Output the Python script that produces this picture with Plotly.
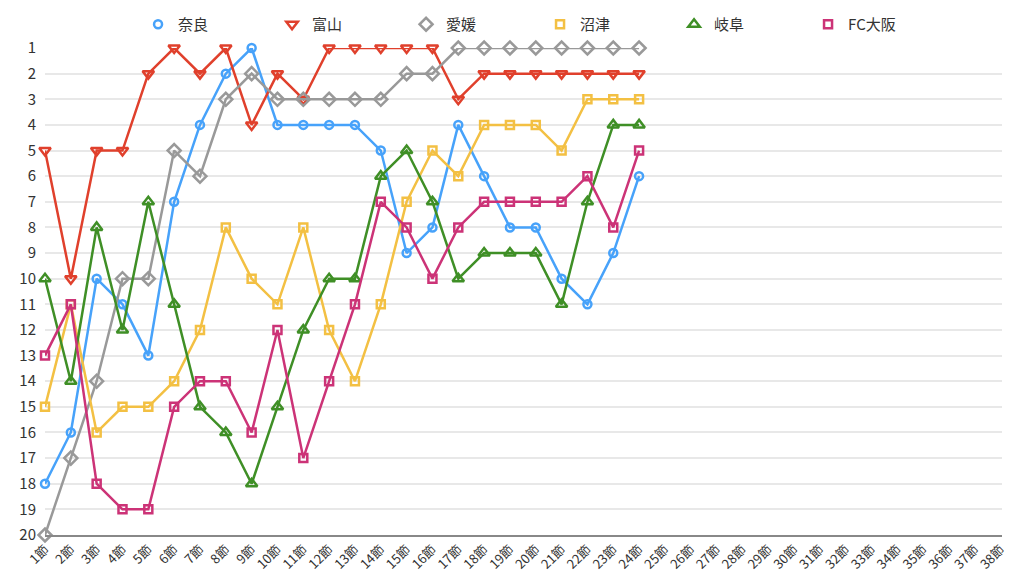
import plotly.graph_objects as go

rounds = [f"{i}節" for i in range(1, 39)]
teams = ["奈良", "富山", "愛媛", "沼津", "岐阜", "FC大阪"]

nara    = [18, 16, 10, 11, 13, 7, 4, 2, 1, 4, 4, 4, 4, 5, 9, 8, 4, 6, 8, 8, 10, 11, 9, 6]
toyama  = [5, 10, 5, 5, 2, 1, 2, 1, 4, 2, 3, 1, 1, 1, 1, 1, 3, 2, 2, 2, 2, 2, 2, 2]
ehime   = [20, 17, 14, 10, 10, 5, 6, 3, 2, 3, 3, 3, 3, 3, 2, 2, 1, 1, 1, 1, 1, 1, 1, 1]
numazu  = [15, 11, 16, 15, 15, 14, 12, 8, 10, 11, 8, 12, 14, 11, 7, 5, 6, 4, 4, 4, 5, 3, 3, 3]
gifu    = [10, 14, 8, 12, 7, 11, 15, 16, 18, 15, 12, 10, 10, 6, 5, 7, 10, 9, 9, 9, 11, 7, 4, 4]
fcosaka = [13, 11, 18, 19, 19, 15, 14, 14, 16, 12, 17, 14, 11, 7, 8, 10, 8, 7, 7, 7, 7, 6, 8, 5]

series = [nara, toyama, ehime, numazu, gifu, fcosaka]
colors = ["#47a2fa", "#e0402c", "#999999", "#f3c043", "#3f8f26", "#cc3377"]
symbols = ["circle-open", "triangle-down-open", "diamond-open", "square-open", "triangle-up-open", "square-open"]
sizes = [8, 10, 10, 8, 10, 8]
rank_ticks = list(range(1, 21))

FONT = "Noto Sans CJK JP"
fig = go.Figure()
for name, vals, c, s, sz in zip(teams, series, colors, symbols, sizes):
    fig.add_trace(go.Scatter(
        x=rounds[:len(vals)], y=vals, mode="lines+markers", name=name,
        line=dict(color=c, width=2.5),
        marker=dict(symbol=s, size=sz, color=c, line=dict(color=c, width=2.5)),
        cliponaxis=False, showlegend=False,
    ))
for name, c, s, sz in zip(teams, colors, symbols, sizes):
    fig.add_trace(go.Scatter(
        x=[None], y=[None], mode="markers", name=name,
        marker=dict(symbol=s, size=sz, color=c, line=dict(color=c, width=2.5)),
    ))

# page body adds an 8px offset; figure is sized to compensate
fig.update_layout(
    width=1016, height=573,
    margin=dict(l=37, r=22, t=40, b=46, autoexpand=False),
    paper_bgcolor="white", plot_bgcolor="white",
    font=dict(family=FONT, size=14, color="#333333"),
    legend=dict(orientation="h", xref="container", yref="container",
                x=0.128, y=1.0, xanchor="left", yanchor="top",
                entrywidth=89, entrywidthmode="pixels", bgcolor="rgba(0,0,0,0)",
                font=dict(family=FONT, size=15, color="#333333"), itemwidth=30),
    xaxis=dict(
        type="category", categoryorder="array", categoryarray=rounds,
        range=[0, 37.05], tickangle=-45, showgrid=False, automargin=False,
        showline=True, linecolor="#888888", linewidth=1.5,
        tickfont=dict(family=FONT, size=13, color="#333333"), ticks="",
    ),
    yaxis=dict(
        range=[20, 1], tickvals=rank_ticks, ticktext=[str(v) for v in rank_ticks],
        showgrid=True, gridcolor="#e8e8e8", gridwidth=1.5, zeroline=False, automargin=False,
        tickfont=dict(family=FONT, size=15, color="#333333"), ticks="",
        ticklabelstandoff=8,
    ),
)

fig.write_html("out.html")
